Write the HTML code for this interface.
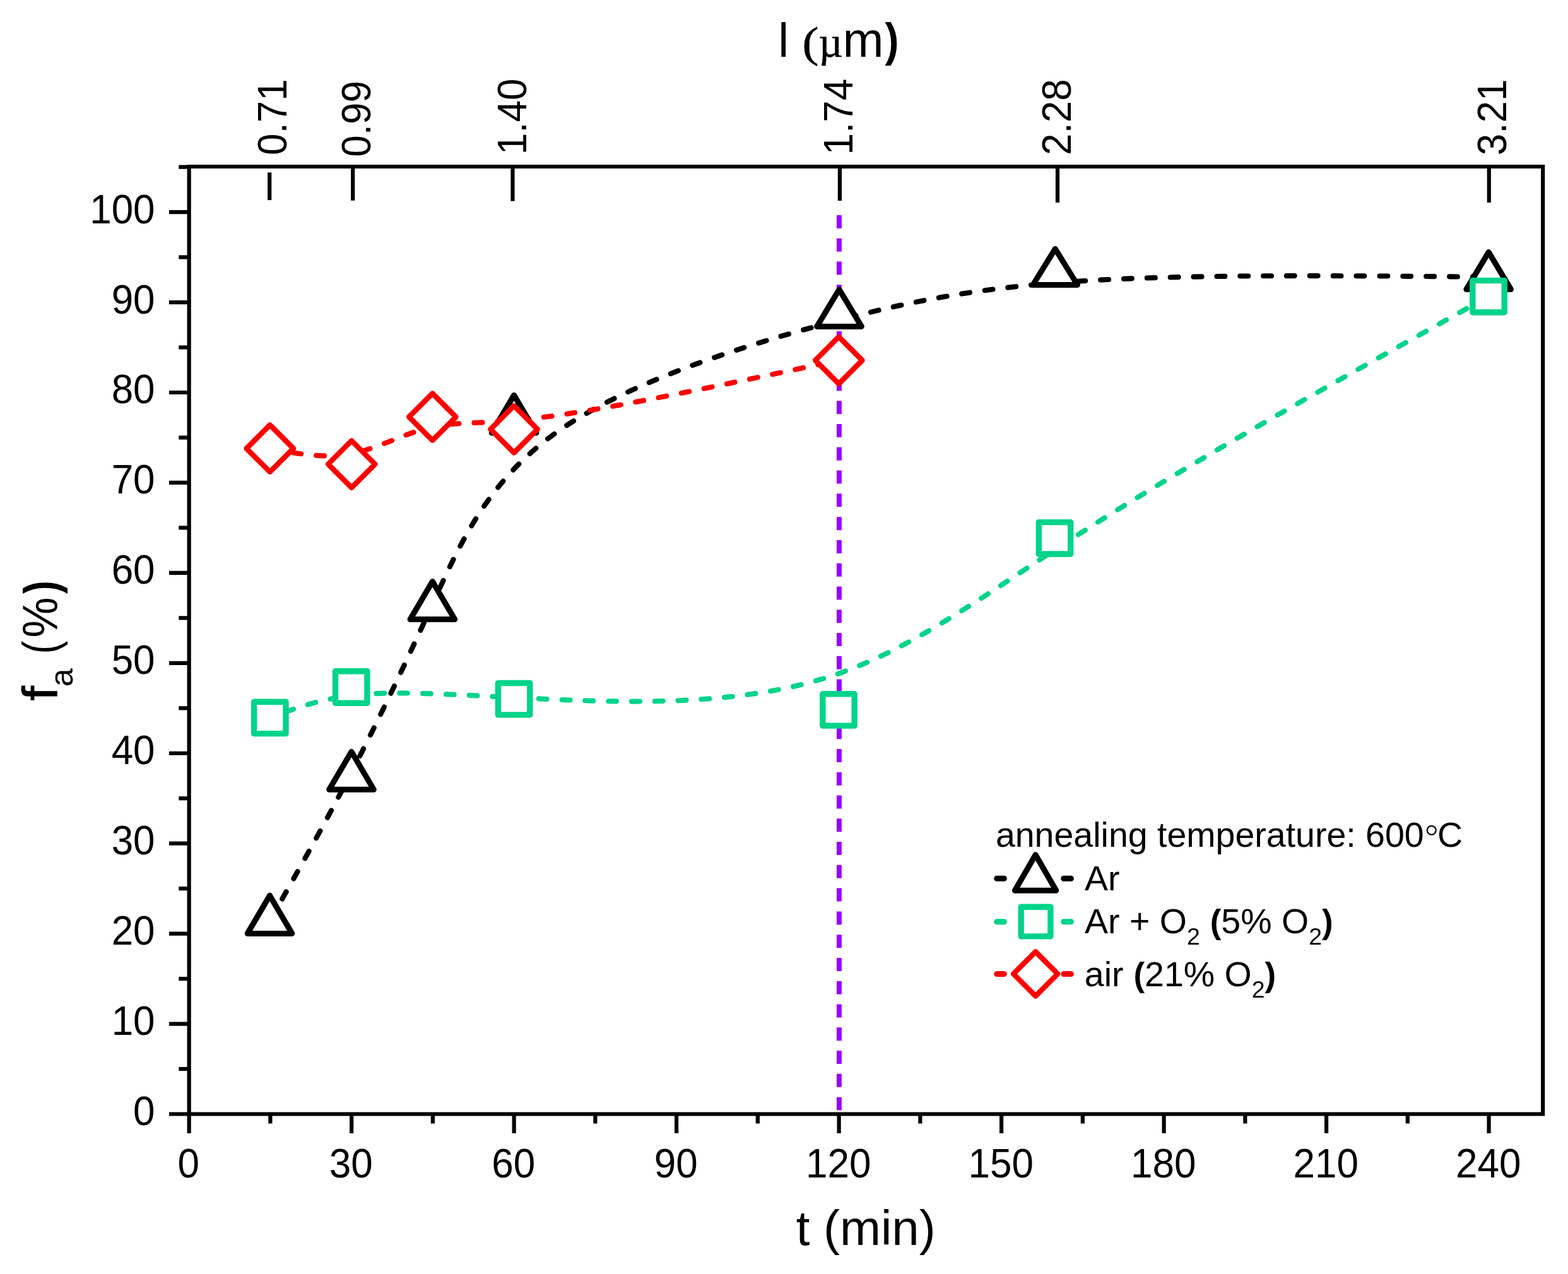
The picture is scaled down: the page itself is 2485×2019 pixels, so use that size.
<!DOCTYPE html>
<html lang="en"><head><meta charset="utf-8"><title>Amorphous fraction vs annealing time</title>
<style>
html,body{margin:0;padding:0;background:#fff;}
body{width:2485px;height:2019px;overflow:hidden;}
svg{display:block;}
text{white-space:pre;}
</style></head>
<body>
<svg width="2485" height="2019" viewBox="0 0 2485 2019">
<rect x="0" y="0" width="2485" height="2019" fill="#ffffff"/>
<line x1="1329.9" y1="341.0" x2="1329.9" y2="1759.5" stroke="#9900FF" stroke-width="7.9" stroke-dasharray="21 15.78"/>
<g fill="none" stroke-width="8.1" stroke-linecap="round" stroke-linejoin="round">
<path d="M427.5,1459.3 C470.7,1383.3 513.8,1307.3 556.8,1224.3 C599.8,1141.4 642.6,1051.4 685.5,957.2 C728.5,863.0 771.5,764.6 879.0,687.3 C986.4,610.0 1158.2,553.9 1301.2,515.0 C1444.1,476.0 1558.2,454.3 1729.7,444.4 C1901.3,434.6 2130.2,436.8 2359.2,438.9" stroke="#000000" stroke-dasharray="12.8 24.06" stroke-dashoffset="-3.2"/>
<path d="M427.8,1137.4 C470.8,1121.3 513.7,1105.1 578.2,1100.2 C642.7,1095.2 728.6,1101.5 857.4,1107.5 C986.1,1113.4 1157.5,1119.2 1300.4,1076.7 C1443.2,1034.2 1557.3,943.5 1729.0,834.3 C1900.7,725.1 2129.8,597.5 2359.0,469.8" stroke="#00D48A" stroke-dasharray="12.8 24.0" stroke-dashoffset="10.0"/>
<path d="M427.8,710.7 C470.9,719.0 514.1,727.3 557.0,719.0 C599.9,710.6 642.7,685.7 685.6,676.4 C728.5,667.2 771.5,673.8 878.9,658.8 C986.2,643.9 1157.7,607.4 1329.3,571.0" stroke="#FF0000" stroke-dasharray="12.8 24.08" stroke-dashoffset="-0.5"/>
</g>
<g fill="#fff" stroke="#000000" stroke-width="9.0" stroke-linejoin="round">
<path d="M427.5,1419.2 L462.8,1479.4 L392.2,1479.4 Z"/>
<path d="M557.0,1191.3 L592.3,1251.3 L521.7,1251.3 Z"/>
<path d="M685.4,921.5 L720.7,981.5 L650.1,981.5 Z"/>
<path d="M814.6,626.4 L849.9,686.0 L779.3,686.0 Z"/>
<path d="M1330.0,458.7 L1365.3,517.4 L1294.7,517.4 Z"/>
<path d="M1672.3,394.4 L1707.6,451.5 L1637.0,451.5 Z"/>
<path d="M2359.2,399.5 L2394.5,458.6 L2323.9,458.6 Z"/>
</g>
<g fill="#fff" stroke="#00D48A" stroke-width="9.4" stroke-linejoin="round">
<rect x="402.6" y="1112.2" width="50.4" height="50.4"/>
<rect x="531.5" y="1063.8" width="50.4" height="50.4"/>
<rect x="789.4" y="1082.5" width="50.4" height="50.4"/>
<rect x="1303.8" y="1099.7" width="50.4" height="50.4"/>
<rect x="1646.3" y="827.6" width="50.4" height="50.4"/>
<rect x="2333.8" y="444.6" width="50.4" height="50.4"/>
</g>
<g fill="#fff" stroke="#FF0000" stroke-width="8.4" stroke-linejoin="round">
<path d="M427.8,673.5 L465.0,710.7 L427.8,747.9 L390.6,710.7 Z"/>
<path d="M557.2,698.4 L594.4,735.6 L557.2,772.8 L520.0,735.6 Z"/>
<path d="M685.4,623.5 L722.6,660.7 L685.4,697.9 L648.2,660.7 Z"/>
<path d="M814.6,643.1 L851.8,680.3 L814.6,717.5 L777.4,680.3 Z"/>
<path d="M1329.3,533.8 L1366.5,571.0 L1329.3,608.2 L1292.1,571.0 Z"/>
</g>
<g stroke="#000000" stroke-width="6.2" fill="none" stroke-linecap="butt">
<path d="M299.65,260.90 V1768.60 M2445.2,260.90 V1768.60 M296.55,264.0 H2448.30 M296.55,1765.5 H2448.30"/>
<line x1="267.95" y1="1765.50" x2="299.65" y2="1765.50"/>
<line x1="283.35" y1="1694.03" x2="299.65" y2="1694.03"/>
<line x1="267.95" y1="1622.56" x2="299.65" y2="1622.56"/>
<line x1="283.35" y1="1551.09" x2="299.65" y2="1551.09"/>
<line x1="267.95" y1="1479.62" x2="299.65" y2="1479.62"/>
<line x1="283.35" y1="1408.15" x2="299.65" y2="1408.15"/>
<line x1="267.95" y1="1336.68" x2="299.65" y2="1336.68"/>
<line x1="283.35" y1="1265.21" x2="299.65" y2="1265.21"/>
<line x1="267.95" y1="1193.74" x2="299.65" y2="1193.74"/>
<line x1="283.35" y1="1122.27" x2="299.65" y2="1122.27"/>
<line x1="267.95" y1="1050.80" x2="299.65" y2="1050.80"/>
<line x1="283.35" y1="979.33" x2="299.65" y2="979.33"/>
<line x1="267.95" y1="907.86" x2="299.65" y2="907.86"/>
<line x1="283.35" y1="836.39" x2="299.65" y2="836.39"/>
<line x1="267.95" y1="764.92" x2="299.65" y2="764.92"/>
<line x1="283.35" y1="693.45" x2="299.65" y2="693.45"/>
<line x1="267.95" y1="621.98" x2="299.65" y2="621.98"/>
<line x1="283.35" y1="550.51" x2="299.65" y2="550.51"/>
<line x1="267.95" y1="479.04" x2="299.65" y2="479.04"/>
<line x1="283.35" y1="407.57" x2="299.65" y2="407.57"/>
<line x1="267.95" y1="336.10" x2="299.65" y2="336.10"/>
<line x1="283.35" y1="264.63" x2="299.65" y2="264.63"/>
<line x1="299.65" y1="1765.50" x2="299.65" y2="1796.00"/>
<line x1="428.39" y1="1765.50" x2="428.39" y2="1780.50"/>
<line x1="557.14" y1="1765.50" x2="557.14" y2="1796.00"/>
<line x1="685.88" y1="1765.50" x2="685.88" y2="1780.50"/>
<line x1="814.63" y1="1765.50" x2="814.63" y2="1796.00"/>
<line x1="943.38" y1="1765.50" x2="943.38" y2="1780.50"/>
<line x1="1072.12" y1="1765.50" x2="1072.12" y2="1796.00"/>
<line x1="1200.87" y1="1765.50" x2="1200.87" y2="1780.50"/>
<line x1="1329.61" y1="1765.50" x2="1329.61" y2="1796.00"/>
<line x1="1458.36" y1="1765.50" x2="1458.36" y2="1780.50"/>
<line x1="1587.10" y1="1765.50" x2="1587.10" y2="1796.00"/>
<line x1="1715.84" y1="1765.50" x2="1715.84" y2="1780.50"/>
<line x1="1844.59" y1="1765.50" x2="1844.59" y2="1796.00"/>
<line x1="1973.34" y1="1765.50" x2="1973.34" y2="1780.50"/>
<line x1="2102.08" y1="1765.50" x2="2102.08" y2="1796.00"/>
<line x1="2230.82" y1="1765.50" x2="2230.82" y2="1780.50"/>
<line x1="2359.57" y1="1765.50" x2="2359.57" y2="1796.00"/>
<line x1="427.20" y1="273.30" x2="427.20" y2="317.10"/>
<line x1="559.20" y1="264.00" x2="559.20" y2="317.80"/>
<line x1="812.50" y1="264.00" x2="812.50" y2="318.70"/>
<line x1="1330.90" y1="264.00" x2="1330.90" y2="318.10"/>
<line x1="1676.00" y1="264.00" x2="1676.00" y2="321.00"/>
<line x1="2359.80" y1="264.00" x2="2359.80" y2="321.00"/>
</g>
<g font-family="'Liberation Sans', sans-serif" font-size="62" fill="#000">
<text transform="translate(245.6,1783.00) scale(1,1.04)" text-anchor="end">0</text>
<text transform="translate(245.6,1640.06) scale(1,1.04)" text-anchor="end">10</text>
<text transform="translate(245.6,1497.12) scale(1,1.04)" text-anchor="end">20</text>
<text transform="translate(245.6,1354.18) scale(1,1.04)" text-anchor="end">30</text>
<text transform="translate(245.6,1211.24) scale(1,1.04)" text-anchor="end">40</text>
<text transform="translate(245.6,1068.30) scale(1,1.04)" text-anchor="end">50</text>
<text transform="translate(245.6,925.36) scale(1,1.04)" text-anchor="end">60</text>
<text transform="translate(245.6,782.42) scale(1,1.04)" text-anchor="end">70</text>
<text transform="translate(245.6,639.48) scale(1,1.04)" text-anchor="end">80</text>
<text transform="translate(245.6,496.54) scale(1,1.04)" text-anchor="end">90</text>
<text transform="translate(245.6,353.60) scale(1,1.04)" text-anchor="end">100</text>
<text transform="translate(298.85,1866.3) scale(1,1.04)" text-anchor="middle">0</text>
<text transform="translate(556.34,1866.3) scale(1,1.04)" text-anchor="middle">30</text>
<text transform="translate(813.83,1866.3) scale(1,1.04)" text-anchor="middle">60</text>
<text transform="translate(1071.32,1866.3) scale(1,1.04)" text-anchor="middle">90</text>
<text transform="translate(1328.81,1866.3) scale(1,1.04)" text-anchor="middle">120</text>
<text transform="translate(1586.30,1866.3) scale(1,1.04)" text-anchor="middle">150</text>
<text transform="translate(1843.79,1866.3) scale(1,1.04)" text-anchor="middle">180</text>
<text transform="translate(2101.28,1866.3) scale(1,1.04)" text-anchor="middle">210</text>
<text transform="translate(2358.77,1866.3) scale(1,1.04)" text-anchor="middle">240</text>
<text transform="translate(453.80,245.90) rotate(-90) scale(1,1.04)">0.71</text>
<text transform="translate(586.50,248.70) rotate(-90) scale(1,1.04)">0.99</text>
<text transform="translate(833.80,245.20) rotate(-90) scale(1,1.04)">1.40</text>
<text transform="translate(1351.00,245.40) rotate(-90) scale(1,1.04)">1.74</text>
<text transform="translate(1697.30,245.90) rotate(-90) scale(1,1.04)">2.28</text>
<text transform="translate(2387.00,246.20) rotate(-90) scale(1,1.04)">3.21</text>
</g>
<g font-family="'Liberation Sans', sans-serif" font-size="78" fill="#000">
<text y="90.2"><tspan x="1233.2" font-size="76.2">l</tspan><tspan> </tspan><tspan x="1271.6" y="90.3" font-family="'Liberation Serif', serif" font-size="68" stroke="#000" stroke-width="0.7" textLength="25.9" lengthAdjust="spacingAndGlyphs">(</tspan><tspan x="1297.6" y="90.3" font-family="'Liberation Serif', serif" font-size="68" stroke="#000" stroke-width="0.6" textLength="38" lengthAdjust="spacingAndGlyphs">µ</tspan><tspan x="1335.4" y="90.2">m</tspan><tspan x="1402.6" y="89.4" font-weight="bold" font-size="74" textLength="22.05" lengthAdjust="spacingAndGlyphs">)</tspan></text>
<text x="1261.7" y="1973.0">t (min)</text>
<text transform="translate(91.3,1110.6) rotate(-90)"><tspan x="0" y="0" stroke="#000" stroke-width="0.9" textLength="23.4" lengthAdjust="spacingAndGlyphs">f</tspan><tspan x="22.4" y="24" font-size="52">a</tspan><tspan y="0"> </tspan><tspan x="74.2" y="0" textLength="20.8" lengthAdjust="spacingAndGlyphs">(</tspan><tspan x="100" y="0" textLength="64.1" lengthAdjust="spacingAndGlyphs">%</tspan><tspan x="169.5" y="-0.3" font-weight="bold" font-size="76" textLength="21" lengthAdjust="spacingAndGlyphs">)</tspan></text>
</g>
<g font-family="'Liberation Sans', sans-serif" font-size="55.5" fill="#000">
<text x="1577.9" y="1342.3">annealing temperature: 600<tspan font-family="'DejaVu Sans', sans-serif" font-weight="200" font-size="60" dy="8.4" dx="-2.9">°</tspan><tspan dy="-8.4" dx="-5.9">C</tspan></text>
<text x="1719.0" y="1410.7">Ar</text>
<text x="1719.0" y="1479.4">Ar + O<tspan font-size="37.5" dy="17.5">2</tspan><tspan dy="-17.5"> </tspan><tspan font-weight="bold" font-size="53" dx="0.5">(</tspan>5% O<tspan font-size="37.5" dy="17.5">2</tspan><tspan dy="-17.5" font-weight="bold" font-size="53">)</tspan></text>
<text x="1718.8" y="1563.3">air <tspan font-weight="bold" font-size="53" dx="0.5">(</tspan>21% O<tspan font-size="37.5" dy="17.5">2</tspan><tspan dy="-17.5" font-weight="bold" font-size="53">)</tspan></text>
</g>
<path d="M1579.8,1392.3 H1591.4 M1685.8,1392.3 H1697.4" stroke="#000000" stroke-width="9.0" stroke-linecap="round" fill="none"/>
<g fill="#fff" stroke="#000000" stroke-width="9.0" stroke-linejoin="round"><path d="M1641.1,1354.7 L1673.8,1411.2 L1608.4,1411.2 Z"/></g>
<path d="M1579.8,1460.7 H1591.4 M1685.8,1460.7 H1697.4" stroke="#00D48A" stroke-width="9.0" stroke-linecap="round" fill="none"/>
<g fill="#fff" stroke="#00D48A" stroke-width="9.4" stroke-linejoin="round"><rect x="1618.2" y="1437.2" width="46.7" height="46.7"/></g>
<path d="M1579.8,1543.6 H1591.4 M1685.8,1543.6 H1697.4" stroke="#FF0000" stroke-width="9.0" stroke-linecap="round" fill="none"/>
<g fill="#fff" stroke="#FF0000" stroke-width="8.4" stroke-linejoin="round"><path d="M1641.2,1508.3 L1676.3,1543.4 L1641.2,1578.5 L1606.1,1543.4 Z"/></g>
</svg>
</body></html>
